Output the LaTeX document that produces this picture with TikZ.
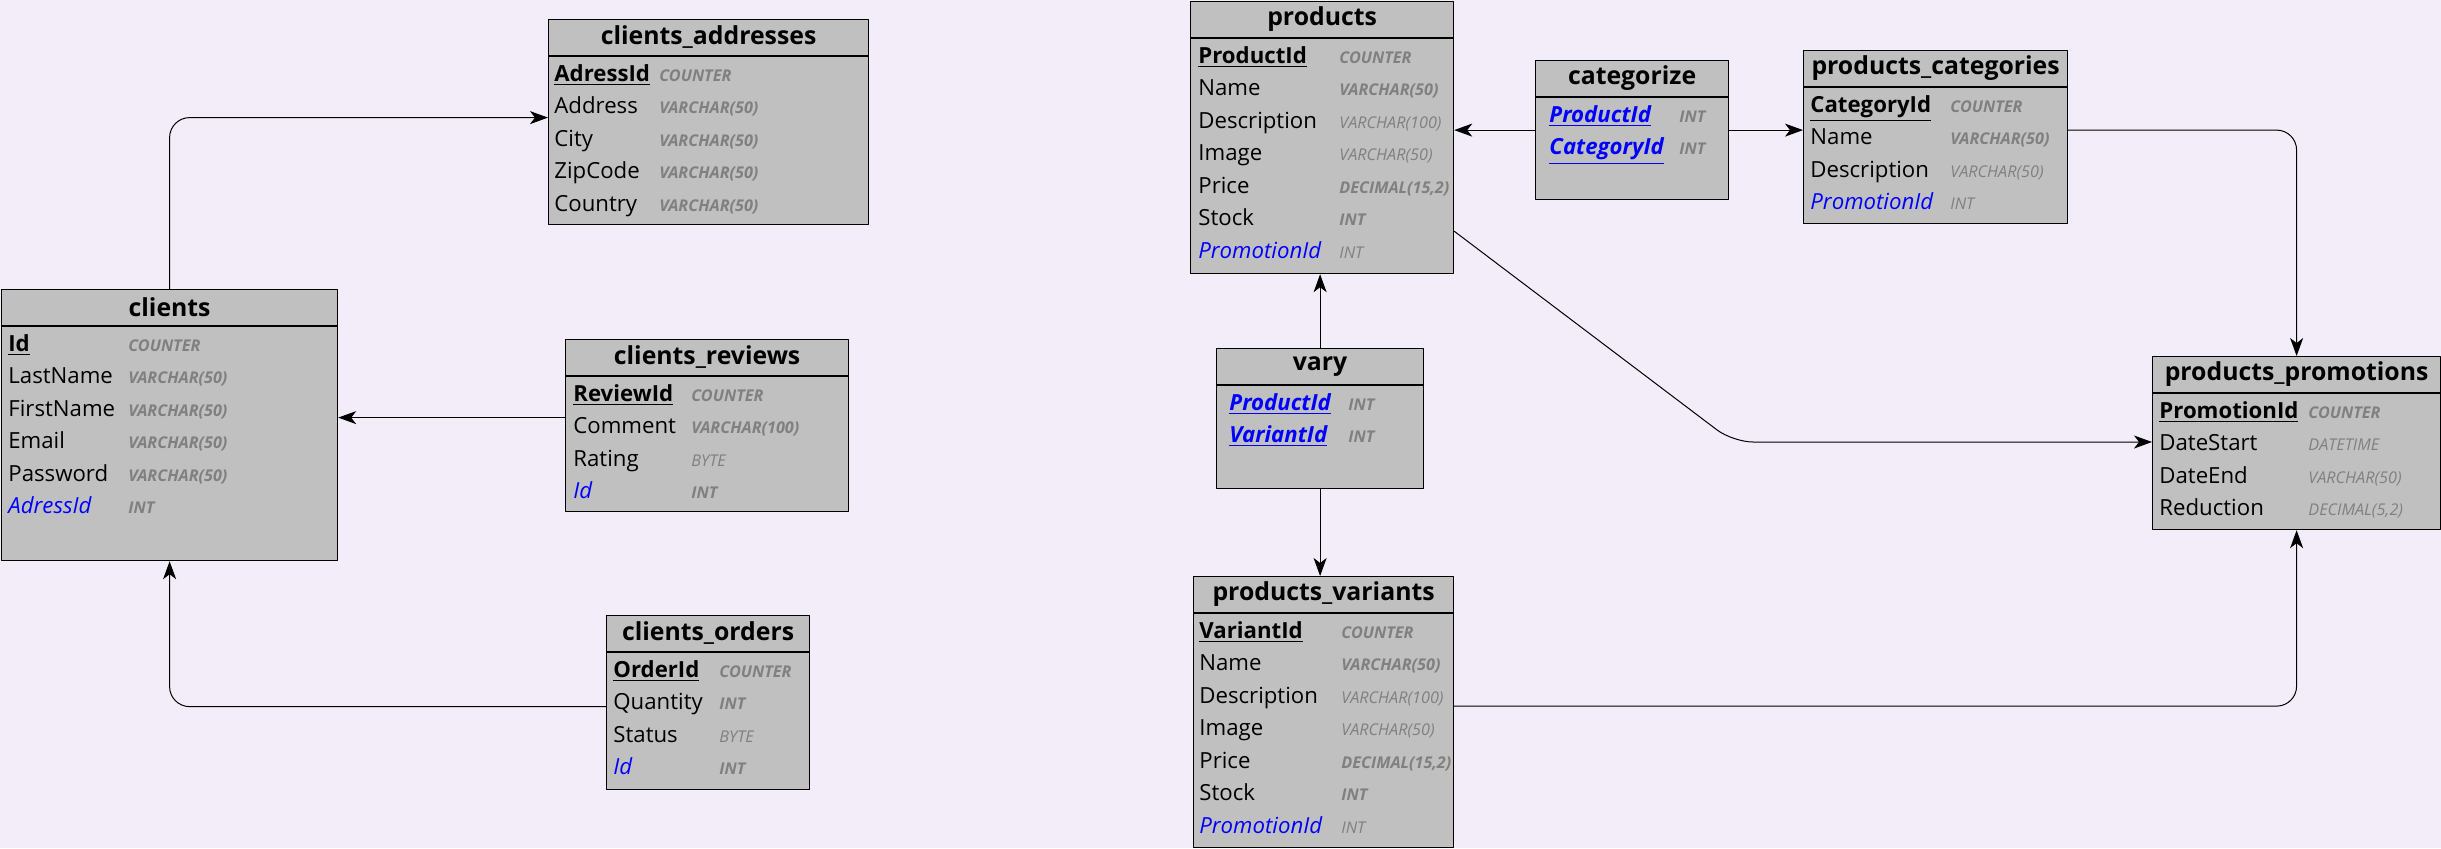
\documentclass[tikz,border=0pt]{standalone}
\usepackage{fontspec}
\setmainfont{Open Sans}
\usetikzlibrary{arrows.meta}
\definecolor{bgcol}{RGB}{243,237,249}
\definecolor{boxgray}{RGB}{192,192,192}
\definecolor{typegray}{RGB}{128,128,128}
\newcommand{\pk}[1]{\textbf{\underline{#1}}}
\newcommand{\fk}[1]{\textcolor{blue}{\textit{#1}}}
\newcommand{\kk}[1]{\textcolor{blue}{\textbf{\textit{\underline{#1}}}}}
\begin{document}
\begin{tikzpicture}[x=.5pt, y=-.5pt, line join=round, >={Stealth[length=9pt,width=6.5pt,inset=2.5pt]},
	tbl/.style={draw, fill=boxgray, line width=.6pt, anchor=north west, inner sep=0pt},
	ttl/.style={inner sep=0pt, font=\bfseries\fontsize{12.4}{14}\selectfont},
	fld/.style={anchor=mid west, inner sep=0pt, font=\fontsize{11.1}{13}\selectfont},
	typb/.style={anchor=mid west, inner sep=0pt, text=typegray, font=\bfseries\itshape\fontsize{8.1}{10}\selectfont},
	typr/.style={anchor=mid west, inner sep=0pt, text=typegray, font=\itshape\fontsize{8.1}{10}\selectfont},
	conn/.style={line width=.5pt, rounded corners=10pt}]
	\def\tblhead#1#2{% table node, title
		\draw[line width=.6pt] ([yshift=-18.5pt]#1.north west) -- ([yshift=-18.5pt]#1.north east);
		\node[ttl] (#1-ttl) at ([yshift=-9.25pt]#1.north) {#2};}
	\def\tblrows#1#2#3#4{% table node, name offset, type offset, rows
		\foreach \n/\t/\s [count=\i from 0] in {#4} {
			\node[fld] (#1-n\i) at ([xshift=#2pt, yshift={-(28.5+16.25*\i)}]#1.north west) {\n};
			\node[\s] (#1-t\i) at ([xshift=#3pt, yshift={-(28.5+16.25*\i)}]#1.north west) {\t};}}
	\useasboundingbox (0,0) rectangle (2441,848);
	\fill[bgcol] (0,0) rectangle (2441,848);
	% clients side
	\node[tbl, minimum width=160pt, minimum height=102.5pt] (addr) at (548,19) {};
	\tblhead{addr}{clients\_addresses}
	\tblrows{addr}{3}{55.5}{{\pk{AdressId}}/COUNTER/typb, Address/VARCHAR(50)/typb, City/VARCHAR(50)/typb,
		ZipCode/VARCHAR(50)/typb, Country/VARCHAR(50)/typb}
	\node[tbl, minimum width=168pt, minimum height=135.5pt] (clients) at (1,289) {};
	\tblhead{clients}{clients}
	\tblrows{clients}{3.5}{63.5}{{\pk{Id}}/COUNTER/typb, LastName/VARCHAR(50)/typb, FirstName/VARCHAR(50)/typb,
		Email/VARCHAR(50)/typb, Password/VARCHAR(50)/typb, {\fk{AdressId}}/INT/typb}
	\node[tbl, minimum width=141.5pt, minimum height=86pt] (reviews) at (565,339) {};
	\tblhead{reviews}{clients\_reviews}
	\tblrows{reviews}{4}{63}{{\pk{ReviewId}}/COUNTER/typb, Comment/VARCHAR(100)/typb, Rating/BYTE/typr, {\fk{Id}}/INT/typb}
	\node[tbl, minimum width=101.5pt, minimum height=87pt] (orders) at (606,615) {};
	\tblhead{orders}{clients\_orders}
	\tblrows{orders}{3.5}{56.5}{{\pk{OrderId}}/COUNTER/typb, Quantity/INT/typb, Status/BYTE/typr, {\fk{Id}}/INT/typb}
	% products side
	\node[tbl, minimum width=131.5pt, minimum height=136pt] (products) at (1190,1) {};
	\tblhead{products}{products}
	\tblrows{products}{4}{74.5}{{\pk{ProductId}}/COUNTER/typb, Name/VARCHAR(50)/typb, Description/VARCHAR(100)/typr,
		Image/VARCHAR(50)/typr, Price/{DECIMAL(15,2)}/typb, Stock/INT/typb, {\fk{PromotionId}}/INT/typr}
	\node[tbl, minimum width=96.5pt, minimum height=69.5pt] (categorize) at (1535,60) {};
	\tblhead{categorize}{categorize}
	\tblrows{categorize}{7}{72}{{\kk{ProductId}}/INT/typb, {\kk{CategoryId}}/INT/typb}
	\node[tbl, minimum width=132pt, minimum height=86.5pt] (cats) at (1803,50) {};
	\tblhead{cats}{products\_categories}
	\tblrows{cats}{3.5}{73.5}{{\pk{CategoryId}}/COUNTER/typb, Name/VARCHAR(50)/typb, Description/VARCHAR(50)/typr,
		{\fk{PromotionId}}/INT/typr}
	\node[tbl, minimum width=103.5pt, minimum height=70pt] (vary) at (1216,348) {};
	\tblhead{vary}{vary}
	\tblrows{vary}{6.5}{66}{{\kk{ProductId}}/INT/typb, {\kk{VariantId}}/INT/typb}
	\node[tbl, minimum width=130pt, minimum height=135.5pt] (variants) at (1193,576) {};
	\tblhead{variants}{products\_variants}
	\tblrows{variants}{3}{74}{{\pk{VariantId}}/COUNTER/typb, Name/VARCHAR(50)/typb, Description/VARCHAR(100)/typr,
		Image/VARCHAR(50)/typr, Price/{DECIMAL(15,2)}/typb, Stock/INT/typb, {\fk{PromotionId}}/INT/typr}
	\node[tbl, minimum width=144pt, minimum height=86.5pt] (promo) at (2152,356) {};
	\tblhead{promo}{products\_promotions}
	\tblrows{promo}{3.5}{78}{{\pk{PromotionId}}/COUNTER/typb, DateStart/DATETIME/typr, DateEnd/VARCHAR(50)/typr,
		Reduction/{DECIMAL(5,2)}/typr}
	% links
	\draw[conn,->] (clients.north) |- ([yshift=2.25pt]addr.west);
	\draw[conn,->] ([yshift=4pt]reviews.west) -- ([yshift=4pt]reviews.west -| clients.east);
	\draw[conn,->] ([yshift=-2pt]orders.west) -| (clients.south);
	\draw[conn,->] (categorize.west) -- (categorize.west -| products.east);
	\draw[conn,->] (categorize.east) -- (categorize.east -| cats.west);
	\draw[conn,->] ([yshift=3.5pt]cats.east) -| (promo.north);
	\draw[conn,->] (vary.north) -- (vary.north |- products.south);
	\draw[conn,->] (vary.south) -- (vary.south |- variants.north);
	\coordinate (bend) at (1733,442);
	\draw[conn,->] ([yshift=21.5pt]products.south east) -- (bend) -- (bend -| promo.west);
	\draw[conn,->] ([yshift=3pt]variants.east) -| (promo.south);
\end{tikzpicture}
\end{document}
